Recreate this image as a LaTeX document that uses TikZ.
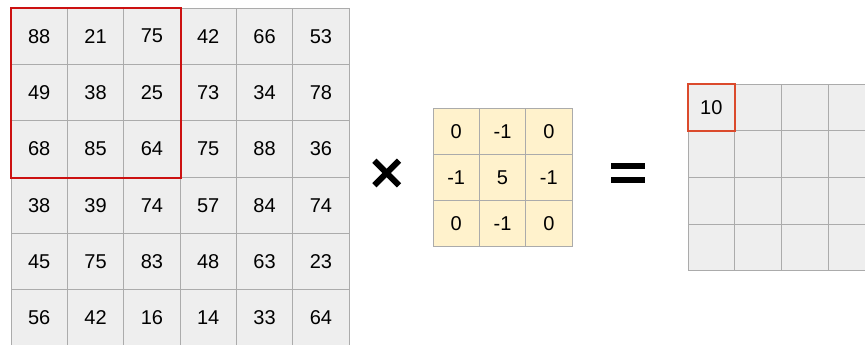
\documentclass[tikz,border=0pt]{standalone}
\usepackage{fontspec}
\setmainfont{Liberation Sans}
\definecolor{cellfill}{HTML}{EEEEEE}
\definecolor{cellline}{HTML}{ABABAB}
\definecolor{kfill}{HTML}{FFF2CC}
\definecolor{redA}{HTML}{CC1111}
\definecolor{redB}{HTML}{DB4A2C}
\tikzset{
  gcell/.style={draw=cellline, fill=cellfill, line width=0.9pt, inner sep=0pt,
    minimum size=56.35pt, font=\fontsize{20}{24}\selectfont},
  kcell/.style={draw=cellline, fill=kfill, line width=0.9pt, inner sep=0pt,
    minimum width=46.33pt, minimum height=46.2pt, font=\fontsize{20}{24}\selectfont},
  ocell/.style={draw=cellline, fill=cellfill, line width=0.9pt, inner sep=0pt,
    minimum width=46.7pt, minimum height=46.6pt, font=\fontsize{20}{24}\selectfont},
  hilite/.style={line width=2pt},
}
\begin{document}
\begin{tikzpicture}[x=1pt,y=-1pt]
\useasboundingbox (0,0) rectangle (865,345);
\clip (0,0) rectangle (865,345);
% input grid
\foreach \row [count=\r from 0] in {{88,21,75,42,66,53},{49,38,25,73,34,78},{68,85,64,75,88,36},{38,39,74,57,84,74},{45,75,83,48,63,23},{56,42,16,14,33,64}}{
  \foreach \v [count=\c from 0] in \row {
    \node[gcell] (g-\r-\c) at ({11+56.35*(\c+0.5)},{8+56.35*(\r+0.5)}) {\v};
  }
}
\draw[redA, hilite] (g-0-0.north west) rectangle (g-2-2.south east);
% times sign
\coordinate (xc) at (386.7,173);
\draw[line width=6pt] ([shift={(-12.3,-12.3)}]xc) -- ([shift={(12.3,12.3)}]xc);
\draw[line width=6pt] ([shift={(-12.3,12.3)}]xc) -- ([shift={(12.3,-12.3)}]xc);
% kernel
\foreach \row [count=\r from 0] in {{0,-1,0},{-1,5,-1},{0,-1,0}}{
  \foreach \v [count=\c from 0] in \row {
    \node[kcell] (k-\r-\c) at ({433+46.33*(\c+0.5)},{108.3+46.2*(\r+0.5)}) {\v};
  }
}
% equals sign
\fill (611,162.7) rectangle (645,168.5);
\fill (611,176.7) rectangle (645,182.5);
% output grid
\foreach \r/\c/\t in {0/0/10,0/1/,0/2/,0/3/,1/0/,1/1/,1/2/,1/3/,2/0/,2/1/,2/2/,2/3/,3/0/,3/1/,3/2/,3/3/}{
  \node[ocell] (o-\r-\c) at ({688+46.7*(\c+0.5)},{84.3+46.6*(\r+0.5)}) {\t};
}
\draw[redB, hilite] (o-0-0.north west) rectangle (o-0-0.south east);
\end{tikzpicture}
\end{document}
